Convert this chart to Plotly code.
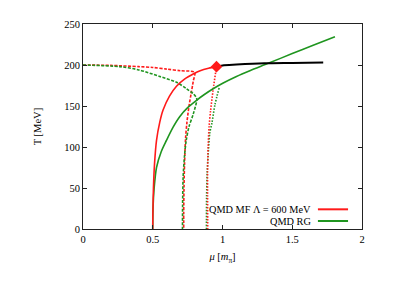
import plotly.graph_objects as go

# --- data ---
mf_solid_mu = [0.5, 0.501, 0.505, 0.513, 0.527, 0.55, 0.574, 0.62, 0.67, 0.73, 0.79, 0.84, 0.9, 0.957]
mf_solid_T = [0, 20, 50, 80, 108, 130, 145, 162, 174, 183, 189, 193, 196, 198]

cep_mu = [0.957]
cep_T = [198]

black_mu = [0.957, 1.0, 1.1, 1.3, 1.5, 1.722]
black_T = [198, 199.5, 200.5, 202, 202.5, 203]

rg_solid_mu = [0.5, 0.502, 0.51, 0.527, 0.56, 0.598, 0.645, 0.693, 0.75, 0.814, 0.87, 0.933, 1.005, 1.1, 1.196, 1.328, 1.5, 1.65, 1.806]
rg_solid_T = [0, 26, 50, 75, 94, 108, 124, 137, 148, 157, 164, 171, 178, 186, 193, 202, 214, 224, 234.5]

mf_dash_mu = [0, 0.2, 0.4, 0.5, 0.6, 0.7, 0.8, 0.79, 0.775, 0.76, 0.745, 0.735, 0.728, 0.724, 0.722, 0.722]
mf_dash_T = [200, 199.5, 198, 197, 195, 193, 191, 180, 165, 150, 130, 110, 80, 50, 20, 0]

rg_dash_mu = [0, 0.263, 0.4, 0.55, 0.67, 0.742, 0.79, 0.815, 0.79, 0.76, 0.74, 0.728, 0.718, 0.714, 0.713]
rg_dash_T = [200, 198, 194, 186, 179, 171, 165, 159, 140, 125, 108, 90, 64, 30, 0]

mf_dot_mu = [0.957, 0.933, 0.915, 0.904, 0.897, 0.893, 0.893, 0.894]
mf_dot_T = [198, 170, 145, 125, 100, 70, 40, 0]

rg_dot_mu = [0.976, 0.945, 0.925, 0.909, 0.897, 0.89, 0.886, 0.885]
rg_dot_T = [172, 151, 130, 117, 90, 68, 40, 0]

x_ticks = [0, 0.5, 1, 1.5, 2]
x_labels = ["0", "0.5", "1", "1.5", "2"]
y_ticks = [0, 50, 100, 150, 200, 250]
legend_labels = ["QMD MF Λ = 600 MeV", "QMD RG"]

RED = "#ff1a1a"
GREEN = "#1f951f"
FONT = "Liberation Serif"

fig = go.Figure()

def add(x, y, color, dash="solid", width=1.6):
    fig.add_trace(go.Scatter(x=x, y=y, mode="lines", showlegend=False,
                             line=dict(color=color, width=width, dash=dash, shape="spline", smoothing=0.8),
                             hoverinfo="skip"))

add(mf_dash_mu, mf_dash_T, RED, "3px,1.5px")
add(rg_dash_mu, rg_dash_T, GREEN, "3px,1.5px")
add(rg_dot_mu, rg_dot_T, GREEN, "1.5px,1.5px")
add(mf_dot_mu, mf_dot_T, RED, "1.5px,1.5px")
add(rg_solid_mu, rg_solid_T, GREEN)
add(mf_solid_mu, mf_solid_T, RED)
add(black_mu, black_T, "black", width=2)
fig.add_trace(go.Scatter(x=cep_mu, y=cep_T, mode="markers", showlegend=False,
                         marker=dict(symbol="diamond", color=RED, size=9)))

# manual gnuplot-style legend (text right, sample line right of it)
for i, (lab, col) in enumerate(zip(legend_labels, [RED, GREEN])):
    yy = [0.096, 0.039][i]
    fig.add_annotation(xref="paper", yref="paper", x=0.82, y=yy, text=lab, showarrow=False,
                       xanchor="right", yanchor="middle", borderpad=0,
                       font=dict(family=FONT, size=10.3, color="black"))
    fig.add_shape(type="line", xref="paper", yref="paper", x0=0.842, x1=0.95, y0=yy, y1=yy,
                  line=dict(color=col, width=2))

axis_common = dict(showgrid=False, zeroline=False, showline=True, linecolor="#222", linewidth=1,
                   mirror="ticks", ticks="inside", ticklen=4, tickcolor="#222",
                   tickfont=dict(family=FONT, size=10.5, color="black"))

fig.update_xaxes(range=[0, 2], tickvals=x_ticks, ticktext=x_labels,
                 title=dict(text="<i>μ</i> [<i>m</i><sub>π</sub>]", font=dict(family=FONT, size=10.5, color="black"), standoff=9),
                 **axis_common)
fig.update_yaxes(range=[0, 250], tickvals=y_ticks,
                 title=dict(text="T [MeV]", font=dict(family=FONT, size=10.5, color="black"), standoff=20),
                 **axis_common)

fig.update_layout(width=391, height=274, margin=dict(l=75, r=37, t=16, b=53),
                  font=dict(family=FONT, color="black"),
                  plot_bgcolor="white", paper_bgcolor="white", showlegend=False)

fig.write_html("out.html")
